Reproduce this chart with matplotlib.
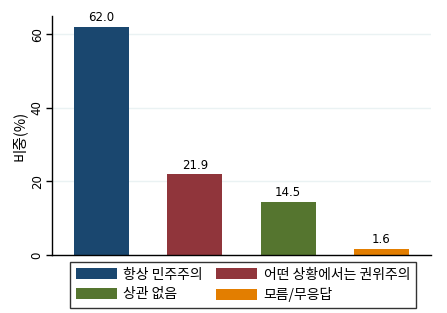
import matplotlib
matplotlib.use("Agg")
import matplotlib.pyplot as plt
from matplotlib.patches import Patch

plt.rcParams["font.family"] = ["Noto Sans CJK KR", "DejaVu Sans"]

CATEGORIES = ["항상 민주주의", "어떤 상황에서는 권위주의", "상관 없음", "모름/무응답"]
VALUES = [62.0, 21.9, 14.5, 1.6]
COLORS = ["#1a476f", "#90353b", "#55752f", "#e37e00"]
Y_TICKS = [0, 20, 40, 60]

fig = plt.figure(figsize=(4.47, 3.13), dpi=100)
ax = fig.add_axes([52 / 447, 1 - 255 / 313, 379 / 447, 239 / 313])

positions = list(range(len(VALUES)))
ax.bar(positions, VALUES, width=0.59, color=COLORS, zorder=2)
for x, v in zip(positions, VALUES):
    ax.text(x, v + 0.8, f"{v:.1f}", ha="center", va="bottom", fontsize=8.5,
            family=["DejaVu Sans"])

ax.set_xlim(-0.53, 3.53)
ax.set_ylim(0, 65)
ax.set_xticks([])
ax.set_yticks(Y_TICKS)
ax.set_yticklabels([str(t) for t in Y_TICKS], rotation=90, va="center",
                   fontsize=8.5, family=["DejaVu Sans"])
ax.grid(axis="y", color="#eaf2f3", linewidth=1, zorder=0)
ax.set_ylabel("비중(%)", fontsize=10.5, labelpad=3)
for side in ["top", "right"]:
    ax.spines[side].set_visible(False)
for side in ["left", "bottom"]:
    ax.spines[side].set_linewidth(1)
    ax.spines[side].set_color("black")
ax.tick_params(axis="y", length=4, width=1, pad=2)

handles = [Patch(facecolor=c, edgecolor="none") for c in COLORS]
order = [0, 2, 1, 3]
leg = fig.legend([handles[i] for i in order], [CATEGORIES[i] for i in order],
                 ncol=2, loc="upper left",
                 bbox_to_anchor=(70 / 447, 1 - 262 / 313),
                 borderaxespad=0,
                 fontsize=10, frameon=True, fancybox=False,
                 edgecolor="black", handlelength=3.0, handleheight=0.86,
                 borderpad=0.4, labelspacing=0.4, columnspacing=0.9,
                 handletextpad=0.45)
leg.get_frame().set_linewidth(1)

fig.savefig("out.png", dpi=100, facecolor="white")
